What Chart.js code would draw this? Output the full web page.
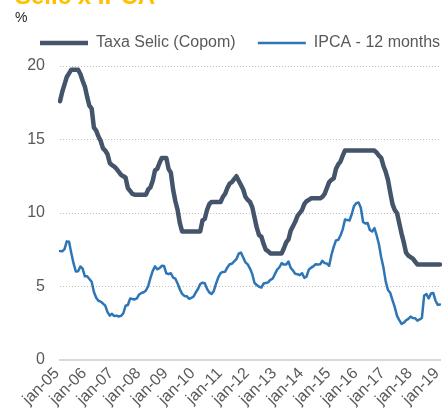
<!DOCTYPE html>
<html><head><meta charset="utf-8">
<script src="https://cdn.jsdelivr.net/npm/chart.js@4/dist/chart.umd.min.js"></script>
<style>
html,body{margin:0;padding:0;background:#fff;overflow:hidden;}
#wrap{position:relative;width:446px;height:412px;overflow:hidden;}
canvas{position:absolute;left:0;top:0;}
#title{position:absolute;left:15px;top:-16px;font:bold 24px "Liberation Sans",Arial,sans-serif;color:#FFC000;line-height:24px;white-space:nowrap;}
#unit{position:absolute;left:15px;top:10px;font:14px "Liberation Sans",Arial,sans-serif;color:#262626;line-height:14px;}
</style></head>
<body><div id="wrap"><canvas id="c" width="446" height="412"></canvas><div id="title">Selic x IPCA</div><div id="unit">%</div></div>
<script>
const tickLabels = ['jan-05','jan-06','jan-07','jan-08','jan-09','jan-10','jan-11','jan-12','jan-13','jan-14','jan-15','jan-16','jan-17','jan-18','jan-19'];
const monthNames = ['jan','feb','mar','apr','may','jun','jul','aug','sep','oct','nov','dec'];
const categories = [];
for (let y = 5; y <= 18; y++) { for (const m of monthNames) categories.push(m + '-' + String(y).padStart(2, '0')); }
categories.push('jan-19');

const selic = [
  17.6, 18.25, 18.75, 19.25, 19.5, 19.75, 19.75, 19.75, 19.75, 19.45, 19.0, 18.6,
  17.9, 17.3, 17.1, 15.8, 15.6, 15.2, 14.9, 14.4, 14.25, 14.0, 13.4, 13.25,
  13.15, 13.0, 12.8, 12.6, 12.5, 12.4, 11.7, 11.5, 11.3, 11.25, 11.25, 11.25,
  11.25, 11.25, 11.25, 11.6, 11.75, 12.2, 12.9, 13.0, 13.4, 13.75, 13.75, 13.75,
  13.0, 12.75, 11.6, 10.8, 10.2, 9.3, 8.75, 8.75, 8.75, 8.75, 8.75, 8.75,
  8.75, 8.75, 8.75, 9.5, 9.6, 10.2, 10.6, 10.75, 10.75, 10.75, 10.75, 10.75,
  11.1, 11.3, 11.7, 12.0, 12.1, 12.3, 12.5, 12.2, 11.9, 11.6, 11.1, 10.9,
  10.75, 10.4, 9.7, 9.0, 8.5, 8.4, 7.9, 7.5, 7.4, 7.25, 7.25, 7.25,
  7.25, 7.25, 7.25, 7.6, 8.0, 8.2, 8.8, 9.1, 9.4, 9.8, 10.0, 10.2,
  10.6, 10.8, 10.9, 11.0, 11.0, 11.0, 11.0, 11.0, 11.1, 11.3, 11.7, 12.1,
  12.25, 12.35, 13.0, 13.3, 13.5, 13.9, 14.25, 14.25, 14.25, 14.25, 14.25, 14.25,
  14.25, 14.25, 14.25, 14.25, 14.25, 14.25, 14.25, 14.25, 14.1, 13.9, 13.75, 13.2,
  12.8, 12.25, 11.4, 10.6, 10.2, 10.0, 9.3, 8.6, 8.0, 7.3, 7.1, 7.0,
  6.9, 6.7, 6.5, 6.5, 6.5, 6.5, 6.5, 6.5, 6.5, 6.5, 6.5, 6.5,
  6.5
];

const ipca = [
  7.41, 7.39, 7.54, 8.07, 8.05, 7.27, 6.57, 6.02, 6.04, 6.36, 6.22, 5.69,
  5.70, 5.51, 5.32, 4.63, 4.23, 4.03, 3.97, 3.84, 3.70, 3.26, 3.02, 3.14,
  2.99, 3.02, 2.96, 3.00, 3.18, 3.69, 3.74, 4.18, 4.15, 4.12, 4.19, 4.46,
  4.56, 4.61, 4.73, 5.04, 5.58, 6.06, 6.37, 6.17, 6.25, 6.41, 6.39, 5.90,
  5.84, 5.90, 5.61, 5.53, 5.20, 4.80, 4.50, 4.36, 4.34, 4.17, 4.22, 4.31,
  4.59, 4.83, 5.17, 5.26, 5.22, 4.84, 4.60, 4.49, 4.70, 5.20, 5.63, 5.91,
  5.99, 6.01, 6.30, 6.51, 6.55, 6.71, 6.87, 7.23, 7.31, 6.97, 6.64, 6.50,
  6.22, 5.85, 5.24, 5.10, 4.99, 4.92, 5.20, 5.24, 5.28, 5.45, 5.53, 5.84,
  6.15, 6.31, 6.59, 6.49, 6.50, 6.70, 6.27, 6.09, 5.86, 5.84, 5.77, 5.91,
  5.59, 5.68, 6.15, 6.28, 6.37, 6.52, 6.50, 6.51, 6.75, 6.59, 6.56, 6.41,
  7.14, 7.70, 8.13, 8.17, 8.47, 8.89, 9.56, 9.53, 9.49, 9.93, 10.48, 10.67,
  10.71, 10.36, 9.39, 9.28, 9.32, 8.84, 8.74, 8.97, 8.48, 7.87, 6.99, 6.29,
  5.35, 4.76, 4.57, 4.08, 3.60, 3.00, 2.71, 2.46, 2.54, 2.70, 2.80, 2.95,
  2.86, 2.84, 2.68, 2.76, 2.86, 4.39, 4.48, 4.19, 4.53, 4.56, 4.05, 3.75,
  3.78
];

const FONT = '"Liberation Sans", Arial, sans-serif';

const legendFix = {
  id: 'legendFix',
  beforeLayout(chart) {
    const lg = chart.legend;
    if (lg && !lg.__fixed) {
      const orig = lg.fit;
      lg.fit = function () {
        orig.call(this);
        this.height = 31;
        this.lineWidths = [this.width - 40];
      };
      lg.__fixed = true;
    }
  }
};

new Chart(document.getElementById('c'), {
  type: 'line',
  data: {
    labels: categories,
    datasets: [
      { label: 'Taxa Selic (Copom)', data: selic, borderColor: '#44546A', backgroundColor: '#44546A',
        borderWidth: 4.5, pointRadius: 0, tension: 0, borderJoinStyle: 'round', borderCapStyle: 'round', fill: false },
      { label: 'IPCA - 12 months', data: ipca, borderColor: '#2E75B6', backgroundColor: '#2E75B6',
        borderWidth: 2.5, pointRadius: 0, tension: 0, borderJoinStyle: 'round', borderCapStyle: 'round', fill: false }
    ]
  },
  options: {
    responsive: false,
    devicePixelRatio: 1,
    animation: false,
    layout: { padding: { top: 35, left: 0, right: 0, bottom: 0 } },
    plugins: {
      tooltip: { enabled: false },
      title: { display: false },
      legend: {
        display: true,
        position: 'top',
        align: 'end',
        labels: {
          usePointStyle: true,
          pointStyle: 'line',
          pointStyleWidth: 48,
          boxHeight: 16,
          padding: 0,
          color: '#595959',
          font: { size: 16, family: FONT },
          generateLabels(chart) {
            const items = Chart.defaults.plugins.legend.labels.generateLabels(chart);
            items[0].text = items[0].text + '\u00a0\u00a0\u00a0\u00a0\u00a0';
            return items;
          }
        }
      }
    },
    scales: {
      x: {
        type: 'category',
        offset: false,
        grid: { display: true, drawOnChartArea: false, drawTicks: false },
        border: { display: true, color: '#D9D9D9', width: 2 },
        ticks: {
          autoSkip: false, maxRotation: 45, minRotation: 45, padding: 4, labelOffset: -3,
          color: '#595959', font: { size: 16, family: FONT },
          callback(v, i) { return i % 12 === 0 ? tickLabels[i / 12] : ''; }
        },
        afterFit(s) { s.height = 52; s.paddingLeft = 0; s.paddingRight = 6; }
      },
      y: {
        min: 0, max: 20,
        ticks: { stepSize: 5, padding: 15, color: '#595959', font: { size: 16, family: FONT } },
        grid: { drawTicks: false, lineWidth: 1,
          color: (ctx) => (ctx.tick && ctx.tick.value === 0) ? 'rgba(0,0,0,0)' : '#BFBFBF' },
        border: { display: false, dash: [1, 2] },
        afterFit(s) { s.width = 60; s.paddingTop = 0; s.paddingBottom = 0; }
      }
    }
  },
  plugins: [legendFix]
});
</script></body></html>
